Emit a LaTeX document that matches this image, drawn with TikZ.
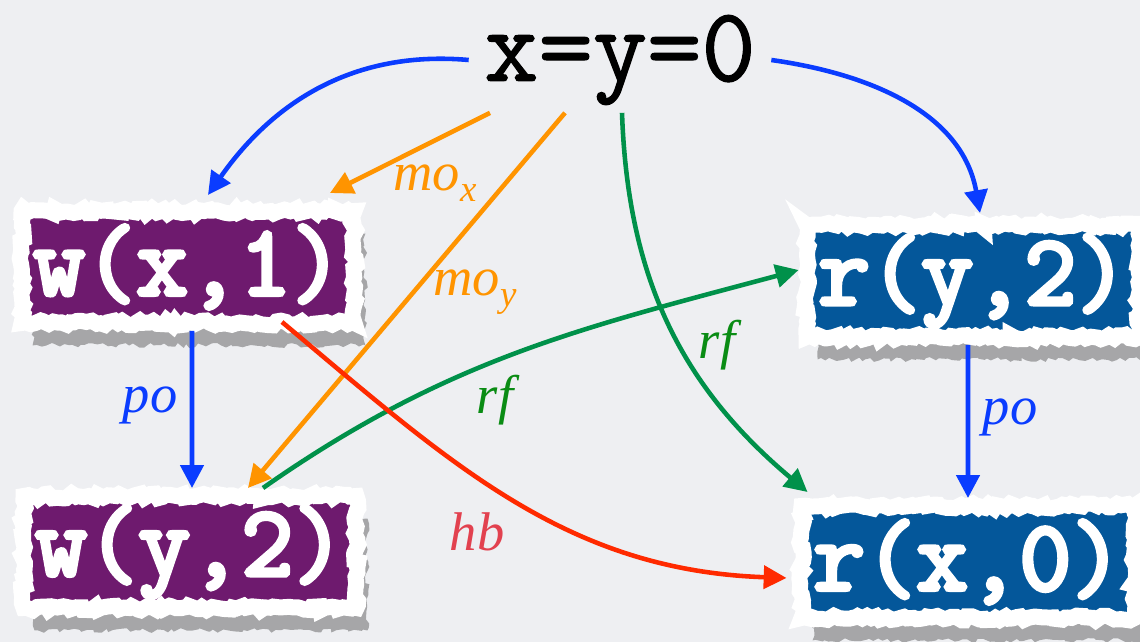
\documentclass[tikz,border=0pt]{standalone}
\usepackage{fontspec}
\setmainfont{Liberation Serif}
\newfontfamily\titlefont[FakeBold=1.2]{Latin Modern Mono}
\newfontfamily\eventfont[FakeBold=4.5]{Latin Modern Mono}
\usepackage{xcolor}
\definecolor{paper}{HTML}{EEEFF2}
\definecolor{plum}{HTML}{6E1A6E}
\definecolor{ocean}{HTML}{04579A}
\definecolor{poblue}{HTML}{0A3CFF}
\definecolor{moorange}{HTML}{FF9400}
\definecolor{rfgreen}{HTML}{00914A}
\definecolor{rftext}{HTML}{0A8C14}
\definecolor{hbred}{HTML}{FF2A00}
\definecolor{hbtext}{HTML}{E2414F}
\usetikzlibrary{arrows.meta,positioning,shadows,decorations.pathmorphing}
\tikzset{
  >={Triangle[length=13pt,width=13pt]},
  event/.style  ={draw=white,line width=0.32cm,minimum width=6.66cm,
                  minimum height=2.24cm,inner sep=0pt,text=white,
                  font=\eventfont\fontsize{57}{57}\selectfont,
                  decorate,decoration={random steps,segment length=2.5pt,amplitude=1.4pt},
                  drop shadow={shadow xshift=0.22cm,shadow yshift=-0.45cm,
                               fill=black,opacity=0.3}},
  writenode/.style={event,fill=plum},
  readnode/.style ={event,fill=ocean},
  lbl/.style    ={font=\itshape\fontsize{31}{31}\selectfont,inner sep=1pt},
  edge/.style   ={->,line width=2.6pt},
  po/.style     ={edge,draw=poblue},
  mo/.style     ={edge,draw=moorange},
  rf/.style     ={edge,draw=rfgreen},
  hb/.style     ={edge,draw=hbred},
}
\newcommand{\lblsub}[1]{\raisebox{-0.45ex}{\fontsize{21}{21}\selectfont #1}}

\begin{document}
\begin{tikzpicture}[x=0.02cm,y=0.02cm]
\pgfmathsetseed{7}
\fill[paper] (0,0) rectangle (1140,642);
\useasboundingbox (0,0) rectangle (1140,642);
% initial state
\node[font=\titlefont\fontsize{60}{60}\selectfont,minimum width=6.04cm,
      minimum height=2.1cm,inner sep=0pt] (init) at (620,582) {x=y=0};
% events
\node[writenode] (wx1) at (188,375) {w(x,1)};
\node[writenode] (wy2) at (190,90)  {w(y,2)};
\node[readnode]  (ry2) at (973,361) {r(y,2)};
\node[readnode]  (rx0) at (968,80)  {r(x,0)};
% initial writes
\draw[po] (init.west) to[out=175,in=55] ([xshift=0.4cm,yshift=0.16cm]wx1.north);
\draw[po] (init.east) to[out=-8,in=100] ([xshift=0.14cm,yshift=0.08cm]ry2.north);
% coherence
\draw[mo] ([xshift=-2.6cm]init.south) -- ([xshift=2.84cm,yshift=0.2cm]wx1.north);
\draw[mo] ([xshift=-1.1cm]init.south) -- ([xshift=1.16cm]wy2.north);
% reads-from
\draw[rf] ([xshift=0.04cm]init.south) to[out=-88,in=140] ([xshift=0.28cm,yshift=0.12cm]rx0.north west);
\draw[rf] ([xshift=1.46cm]wy2.north) to[out=35,in=195] ([yshift=0.22cm]ry2.west);
% happens-before
\draw[hb] ([xshift=1.88cm,yshift=0.18cm]wx1.south) to[out=-40,in=178] ([xshift=-0.14cm,yshift=-0.32cm]rx0.west);
% program order
\draw[po] ([xshift=0.08cm]wx1.south) -- ([xshift=0.04cm]wy2.north);
\draw[po] ([xshift=-0.1cm]ry2.south) -- (rx0.north);
% labels
\node[lbl,text=moorange] (lmox) at (435,459) {mo\lblsub{x}};
\node[lbl,text=moorange] (lmoy) at (475,350) {mo\lblsub{y}};
\node[lbl,text=poblue]   (lpol) at (150,237) {po};
\node[lbl,text=poblue]   (lpor) at (1010,225) {po};
\node[lbl,text=rftext]   (lrfm) at (495,242) {rf};
\node[lbl,text=rftext]   (lrfr) at (717,297) {rf};
\node[lbl,text=hbtext]   (lhb)  at (477,110) {hb};
\end{tikzpicture}
\end{document}
